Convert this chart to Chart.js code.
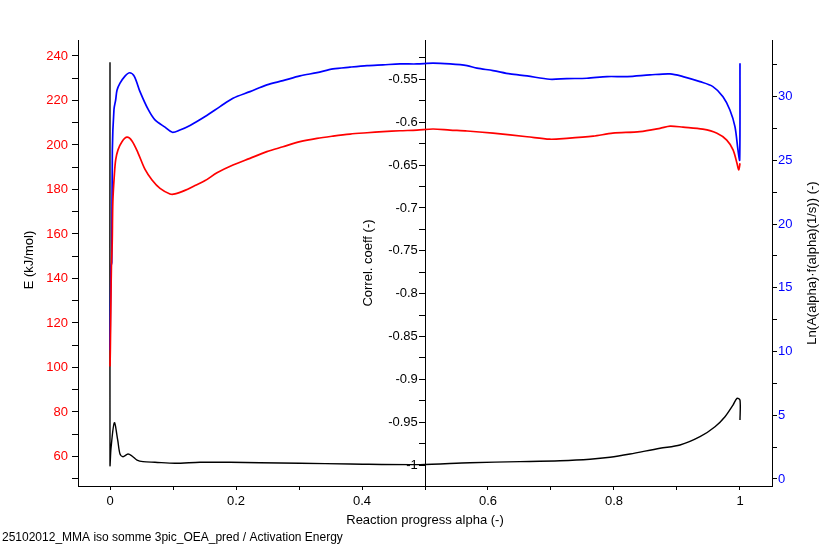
<!DOCTYPE html>
<html>
<head>
<meta charset="utf-8">
<style>
html,body{margin:0;padding:0;background:#fff;}
#wrap{width:823px;height:544px;position:relative;}
</style>
<script src="https://cdn.jsdelivr.net/npm/chart.js@4.4.1/dist/chart.umd.min.js"></script>
</head>
<body>
<div id="wrap"><canvas id="c" width="823" height="544"></canvas></div>
<script>
// ---- data ----
const alphaE = [0.0, 0.0005, 0.0015, 0.0022, 0.0035, 0.0045, 0.007, 0.009, 0.0127, 0.019, 0.027, 0.0349, 0.0444, 0.0556, 0.0667, 0.0794, 0.0952, 0.1032, 0.119, 0.1349, 0.151, 0.1698, 0.1952, 0.2222, 0.249, 0.2746, 0.3016, 0.3286, 0.354, 0.381, 0.408, 0.4333, 0.4603, 0.4873, 0.5127, 0.5397, 0.5667, 0.608, 0.662, 0.698, 0.725, 0.767, 0.798, 0.841, 0.873, 0.889, 0.9095, 0.941, 0.9635, 0.979, 0.989, 0.9952, 0.998, 1.0];
const energyE = [100.4, 108, 131, 145, 156, 174.5, 187, 193.3, 197.8, 201.5, 203.5, 201.8, 196.5, 189.0, 184.3, 180.5, 178.0, 178.0, 179.6, 181.8, 184.0, 187.5, 191.0, 194.0, 197.0, 199.2, 201.5, 203.0, 204.0, 204.9, 205.5, 206.0, 206.4, 206.7, 207.2, 206.7, 206.3, 205.3, 203.7, 202.6, 203.0, 204.0, 205.3, 206.0, 207.5, 208.5, 208.0, 207.1, 205.3, 202.2, 197.8, 191.8, 188.8, 191.8];

const alphaLnA = [0.0, 0.0016, 0.0028, 0.0037, 0.0063, 0.009, 0.0111, 0.0159, 0.0238, 0.0312, 0.0386, 0.0476, 0.0608, 0.0714, 0.0873, 0.0989, 0.111, 0.127, 0.151, 0.1746, 0.1952, 0.2222, 0.249, 0.2746, 0.3016, 0.3286, 0.354, 0.381, 0.408, 0.4333, 0.4603, 0.4873, 0.5127, 0.5397, 0.5667, 0.5825, 0.608, 0.635, 0.662, 0.698, 0.725, 0.757, 0.789, 0.821, 0.857, 0.889, 0.9095, 0.9365, 0.957, 0.973, 0.984, 0.992, 0.9968, 0.9995, 1.0];
const lnA = [10.1, 16.7, 17.0, 25.8, 29.0, 29.75, 30.5, 31.06, 31.62, 31.88, 31.6, 30.4, 28.98, 28.18, 27.61, 27.21, 27.39, 27.75, 28.45, 29.22, 29.88, 30.4, 30.93, 31.26, 31.63, 31.89, 32.18, 32.32, 32.44, 32.5, 32.57, 32.57, 32.63, 32.57, 32.44, 32.24, 32.05, 31.79, 31.63, 31.37, 31.42, 31.45, 31.58, 31.58, 31.71, 31.79, 31.58, 31.18, 30.79, 30.0, 28.96, 27.65, 25.82, 25.04, 32.63];

const alphaCorr = [0.0, 0.0, 0.0016, 0.0069, 0.0122, 0.0159, 0.0206, 0.0286, 0.0349, 0.0429, 0.0524, 0.0714, 0.1032, 0.1429, 0.1905, 0.2381, 0.3016, 0.381, 0.4921, 0.5714, 0.6508, 0.7143, 0.7619, 0.7937, 0.8254, 0.873, 0.9048, 0.9365, 0.9603, 0.9762, 0.9889, 0.9952, 1.0, 1.0];
const correl = [-0.53, -1.0, -0.9805, -0.9506, -0.9708, -0.9872, -0.9903, -0.9872, -0.9895, -0.9942, -0.9961, -0.9968, -0.998, -0.9968, -0.9968, -0.9973, -0.998, -0.9988, -0.9995, -0.9973, -0.9961, -0.995, -0.9933, -0.991, -0.9872, -0.9805, -0.9767, -0.967, -0.9553, -0.9436, -0.93, -0.9222, -0.9242, -0.9475];

// ---- ticks ----
const xTicks = [0, 0.1, 0.2, 0.3, 0.4, 0.5, 0.6, 0.7, 0.8, 0.9, 1];
const xTickLabels = [0, 0.2, 0.4, 0.6, 0.8, 1];
const eTicks = [50, 60, 70, 80, 90, 100, 110, 120, 130, 140, 150, 160, 170, 180, 190, 200, 210, 220, 230, 240];
const eTickLabels = [60, 80, 100, 120, 140, 160, 180, 200, 220, 240];
const lnTicks = [0, 2.5, 5, 7.5, 10, 12.5, 15, 17.5, 20, 22.5, 25, 27.5, 30, 32.5];
const lnTickLabels = [0, 5, 10, 15, 20, 25, 30];
const corrTicks = [-1, -0.975, -0.95, -0.925, -0.9, -0.875, -0.85, -0.825, -0.8, -0.775, -0.75, -0.725, -0.7, -0.675, -0.65, -0.625, -0.6, -0.575, -0.55, -0.525];
const corrTickLabels = [-1, -0.95, -0.9, -0.85, -0.8, -0.75, -0.7, -0.65, -0.6, -0.55];

const xTitle = 'Reaction progress alpha (-)';
const eTitle = 'E (kJ/mol)';
const corrTitle = 'Correl. coeff (-)';
const lnTitle = 'Ln(A(alpha)\u00b7f(alpha)(1/s)) (-)';
const footer = '25102012_MMA iso somme 3pic_OEA_pred / Activation Energy';

const FONT = '"Liberation Sans", Arial, sans-serif';

const toPts = (xs, ys) => xs.map((x, i) => ({x: x, y: ys[i]}));
const setTicks = (arr) => (s) => { s.ticks = arr.map(v => ({value: v})); };
const labelFor = (arr, pad) => (v) => arr.includes(v) ? String(v) + (pad || '') : '';

const titlePlugin = {
  id: 'extraTitles',
  afterDraw(chart) {
    const ctx = chart.ctx;
    const sx = chart.scales.x;
    ctx.save();
    ctx.fillStyle = '#000';
    ctx.font = '13px ' + FONT;
    ctx.textAlign = 'center';
    ctx.textBaseline = 'middle';
    const drawV = (t, x, y) => {
      ctx.save(); ctx.translate(x, y); ctx.rotate(-Math.PI / 2); ctx.fillText(t, 0, 0); ctx.restore();
    };
    const midY = (chart.chartArea.top + chart.chartArea.bottom) / 2;
    drawV(eTitle, chart.chartArea.left - 49, midY - 3);
    drawV(corrTitle, sx.getPixelForValue(0.5) - 57, midY);
    drawV(lnTitle, chart.chartArea.right + 40, midY);
    ctx.textAlign = 'left';
    ctx.font = '12px ' + FONT;
    ctx.fillText(footer, 2, 538);
    ctx.restore();
  }
};

new Chart(document.getElementById('c'), {
  type: 'line',
  data: {
    datasets: [
      { label: 'E', data: toPts(alphaE, energyE), yAxisID: 'yE', borderColor: '#ff0000', borderWidth: 1.7, pointRadius: 0, tension: 0.3, fill: false },
      { label: 'LnA', data: toPts(alphaLnA, lnA), yAxisID: 'yL', borderColor: '#0000ff', borderWidth: 1.7, pointRadius: 0, tension: 0.3, fill: false },
      { label: 'Correl', data: toPts(alphaCorr, correl), yAxisID: 'yC', borderColor: '#000000', borderWidth: 1.4, pointRadius: 0, tension: 0.3, fill: false }
    ]
  },
  options: {
    responsive: false,
    animation: false,
    layout: { padding: { top: 40, left: 0, right: 0, bottom: 0 } },
    plugins: { legend: { display: false }, tooltip: { enabled: false } },
    scales: {
      x: {
        type: 'linear', position: 'bottom', min: -0.0508, max: 1.0508,
        afterBuildTicks: setTicks(xTicks),
        afterFit: (s) => { s.height = 58; },
        grid: { drawOnChartArea: false, tickLength: 4, tickColor: '#000', color: '#000' },
        border: { color: '#000', width: 1 },
        ticks: { autoSkip: false, maxRotation: 0, padding: 4, color: '#000', font: { size: 13, family: FONT }, callback: labelFor(xTickLabels) },
        title: { display: true, text: xTitle, color: '#000', font: { size: 13, family: FONT }, padding: { top: 0, bottom: 16 } }
      },
      yE: {
        type: 'linear', position: 'left', min: 46.74, max: 247.19,
        afterBuildTicks: setTicks(eTicks),
        afterFit: (s) => { s.width = 78; },
        grid: { drawOnChartArea: false, tickLength: 6, tickColor: '#000' },
        border: { color: '#000', width: 1 },
        ticks: { autoSkip: false, padding: 4, color: '#ff0000', font: { size: 13, family: FONT }, callback: labelFor(eTickLabels) }
      },
      yL: {
        type: 'linear', position: 'right', min: -0.55, max: 34.45,
        afterBuildTicks: setTicks(lnTicks),
        afterFit: (s) => { s.width = 51; },
        grid: { drawOnChartArea: false, tickLength: 5, tickColor: '#000' },
        border: { color: '#000', width: 1 },
        ticks: { autoSkip: false, padding: 1, color: '#0000ff', font: { size: 13, family: FONT }, callback: labelFor(lnTickLabels) }
      },
      yC: {
        type: 'linear', position: { x: 0.5 }, min: -1.0245, max: -0.504,
        afterBuildTicks: setTicks(corrTicks),
        grid: { drawOnChartArea: false, tickLength: 6, tickColor: '#000' },
        border: { color: '#000', width: 1 },
        ticks: { autoSkip: false, padding: 1, color: '#000', font: { size: 13, family: FONT }, callback: labelFor(corrTickLabels, '  ') }
      }
    }
  },
  plugins: [titlePlugin]
});
</script>
</body>
</html>
